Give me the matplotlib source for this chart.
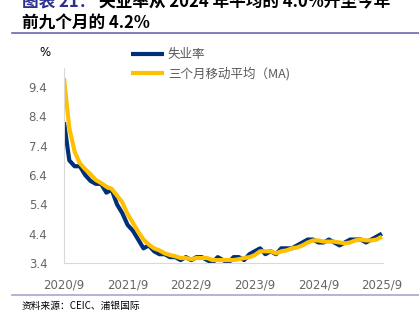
import matplotlib
matplotlib.use("Agg")
import matplotlib.pyplot as plt
from matplotlib.lines import Line2D

plt.rcParams['font.family'] = ['Noto Sans CJK SC', 'DejaVu Sans']

# monthly, 2020/9 .. 2025/9
unemp = [8.2, 6.9, 6.7, 6.7, 6.4, 6.2, 6.1, 6.1, 5.8, 5.9, 5.4, 5.1, 4.7,
         4.5, 4.2, 3.9, 4.0, 3.8, 3.7, 3.7, 3.6, 3.6, 3.5, 3.6, 3.5,
         3.6, 3.6, 3.5, 3.4, 3.6, 3.5, 3.4, 3.6, 3.6, 3.5, 3.7, 3.8,
         3.9, 3.7, 3.8, 3.7, 3.9, 3.9, 3.9, 4.0, 4.1, 4.2, 4.2, 4.1,
         4.1, 4.2, 4.1, 4.0, 4.1, 4.2, 4.2, 4.2, 4.1, 4.2, 4.3, 4.4]
ma3 = [9.7, 8.0, 7.2, 6.8, 6.6, 6.43, 6.23, 6.13, 6.0, 5.93, 5.7, 5.47, 5.07,
       4.77, 4.47, 4.2, 4.03, 3.9, 3.83, 3.73, 3.67, 3.63, 3.57, 3.57, 3.53,
       3.57, 3.57, 3.57, 3.5, 3.5, 3.5, 3.5, 3.5, 3.53, 3.57, 3.6, 3.67,
       3.8, 3.8, 3.8, 3.73, 3.8, 3.83, 3.9, 3.93, 4.0, 4.1, 4.17, 4.17,
       4.13, 4.13, 4.13, 4.1, 4.07, 4.1, 4.17, 4.2, 4.17, 4.17, 4.2, 4.3]
xlabels = ["2020/9", "2021/9", "2022/9", "2023/9", "2024/9", "2025/9"]
yticks = [3.4, 4.4, 5.4, 6.4, 7.4, 8.4, 9.4]

fig = plt.figure(figsize=(4.19, 3.24), dpi=100)
ax = fig.add_axes([64/419, 1-263/324, (383-64)/419, (263-68)/324])

x = list(range(len(unemp)))
ax.plot(x, unemp, color='#002F7A', lw=3.0, label='失业率', solid_capstyle='butt')
ax.plot(x, ma3, color='#FFC000', lw=3.0, label='三个月移动平均（MA)', solid_capstyle='butt')

ax.set_xlim(0, 60.2)
ax.set_ylim(3.4, 10.05)
ax.set_yticks(yticks)
ax.set_yticklabels([f"{v:.1f}" for v in yticks], family='DejaVu Sans', fontsize=8.5, color='#666666')
ax.set_xticks(range(0, 61, 12))
ax.set_xticklabels(xlabels, family='DejaVu Sans', fontsize=8.5, color='#666666')
ax.tick_params(axis='y', length=0, pad=12)
ax.tick_params(axis='x', length=0, pad=11)
for s in ['top', 'right']:
    ax.spines[s].set_visible(False)
for s in ['left', 'bottom']:
    ax.spines[s].set_color('#D9D9D9')
    ax.spines[s].set_linewidth(0.8)

fig.text(45/419, 1-52/324, '%', ha='center', va='center', fontsize=8.5, family='DejaVu Sans')

fig.legend(loc='upper left', bbox_to_anchor=(131/419, 1-48/324), frameon=False,
           borderpad=0, borderaxespad=0, handlelength=2.6, handletextpad=0.35,
           labelspacing=0.45, fontsize=9, labelcolor='#595959')

# title, first line cut off by the top edge
t1 = fig.text(22/419, 1-2/324, '图表 21：', color='#2B2F8F', fontsize=12,
              fontweight='bold', va='center', ha='left')
ax.annotate('失业率从 2024 年平均的 4.0%升至今年', xy=(1, 0.5), xycoords=t1,
            xytext=(3, 0), textcoords='offset points', va='center', ha='left',
            fontsize=12, fontweight='bold', color='black', annotation_clip=False)
fig.text(22/419, 1-22.5/324, '前九个月的 4.2%', color='black', fontsize=12,
         fontweight='bold', va='center', ha='left')

fig.add_artist(Line2D([12/419, 1], [1-32.5/324, 1-32.5/324], color='#6B68AE', lw=1.2))
fig.add_artist(Line2D([12/419, 1], [1-295/324, 1-295/324], color='#A9A5D0', lw=1.2))

fig.text(22/419, 1-306/324, '资料来源：CEIC、浦银国际', fontsize=7, va='center', ha='left')

fig.savefig('out.png', dpi=100)
